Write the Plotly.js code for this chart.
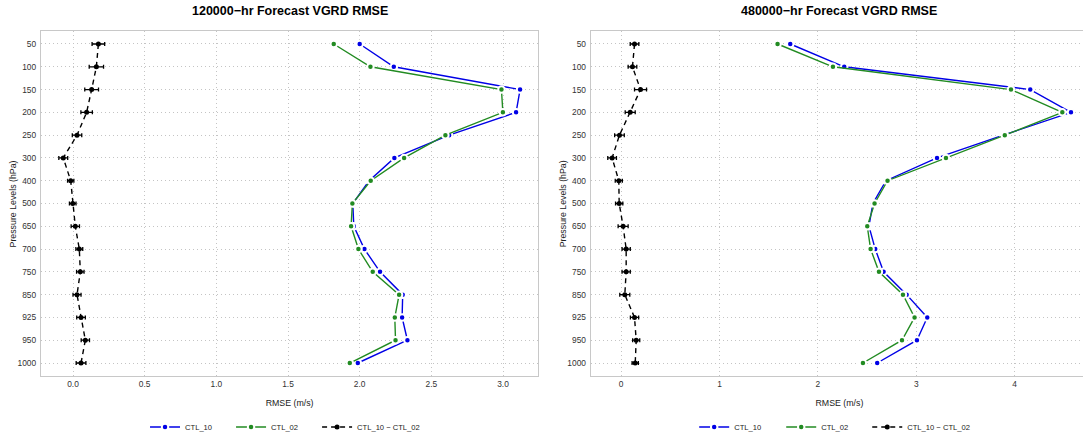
<!DOCTYPE html>
<html>
<head>
<meta charset="utf-8">
<script src="https://cdn.plot.ly/plotly-3.0.1.min.js"></script>
<style>
  html, body { margin: 0; padding: 0; overflow: hidden; background: #fff; }
  #chart { width: 1092px; height: 460px; }
</style>
</head>
<body>
<div id="chart"></div>
<script>
// Pressure levels (hPa), top of the atmosphere first
const levels = ['50', '100', '150', '200', '250', '300', '400', '500', '650', '700', '750', '850', '925', '950', '1000'];

// 120000-hr forecast VGRD RMSE (m/s)
const ctl10_f120 = [2.000, 2.238, 3.119, 3.091, 2.624, 2.242, 2.066, 1.952, 1.959, 2.033, 2.142, 2.300, 2.296, 2.333, 1.987];
const ctl02_f120 = [1.819, 2.075, 2.989, 2.999, 2.598, 2.310, 2.077, 1.949, 1.940, 1.991, 2.091, 2.275, 2.245, 2.250, 1.931];
const diff_f120  = [0.177, 0.163, 0.130, 0.095, 0.028, -0.068, -0.016, -0.002, 0.016, 0.044, 0.051, 0.028, 0.056, 0.086, 0.056];
const ci_f120    = [0.044, 0.050, 0.048, 0.040, 0.033, 0.031, 0.022, 0.023, 0.029, 0.024, 0.026, 0.028, 0.030, 0.029, 0.034];

// 480000-hr forecast VGRD RMSE (m/s)
const ctl10_f480 = [1.719, 2.268, 4.159, 4.573, 3.885, 3.211, 2.692, 2.559, 2.519, 2.583, 2.668, 2.902, 3.112, 3.007, 2.603];
const ctl02_f480 = [1.590, 2.153, 3.963, 4.485, 3.900, 3.302, 2.708, 2.576, 2.502, 2.536, 2.621, 2.865, 2.983, 2.855, 2.458];
const diff_f480  = [0.136, 0.115, 0.197, 0.092, -0.017, -0.092, -0.024, -0.020, 0.020, 0.051, 0.051, 0.037, 0.136, 0.153, 0.143];
const ci_f480    = [0.044, 0.044, 0.061, 0.051, 0.049, 0.044, 0.036, 0.037, 0.051, 0.042, 0.042, 0.051, 0.042, 0.036, 0.032];

const seriesNames = ['CTL_10', 'CTL_02', 'CTL_10 \u2212 CTL_02'];
const xTicks120 = [0, 0.5, 1, 1.5, 2, 2.5, 3];
const xTicks480 = [0, 1, 2, 3, 4];

// Figure is a little larger than the window; the page crops the overflow.
const W = 1092, H = 460;
const M = { l: 41, r: 4.3, t: 31, b: 84 };
const PW = W - M.l - M.r, PH = H - M.t - M.b;
const FONT = 'Liberation Sans, Arial, Helvetica, sans-serif';
const BLUE = '#0000e6', GREEN = '#228b22', BLACK = '#000000';

// page pixel -> paper fraction of the plotting area
function px(v) { return (v - M.l) / PW; }
function py(v) { return (M.t + PH - v) / PH; }

function panelTraces(c10, c02, diff, ci, xa, ya, legs) {
  const common = { y: levels, xaxis: xa, yaxis: ya, mode: 'lines+markers', cliponaxis: false };
  return [
    Object.assign({}, common, {
      x: c10, name: seriesNames[0], legend: legs[0],
      line: { color: BLUE, width: 1.4 },
      marker: { color: BLUE, size: 6.5, line: { color: '#ffffff', width: 2 } }
    }),
    Object.assign({}, common, {
      x: c02, name: seriesNames[1], legend: legs[1],
      line: { color: GREEN, width: 1.4 },
      marker: { color: GREEN, size: 6.5, line: { color: '#ffffff', width: 2 } }
    }),
    Object.assign({}, common, {
      x: diff, name: seriesNames[2], legend: legs[2],
      line: { color: BLACK, width: 1.4, dash: '5px,4px' },
      marker: { color: BLACK, size: 5 },
      error_x: { type: 'data', array: ci, symmetric: true, color: BLACK, thickness: 1.3, width: 2 }
    })
  ];
}

const data = [].concat(
  panelTraces(ctl10_f120, ctl02_f120, diff_f120, ci_f120, 'x', 'y', ['legend', 'legend2', 'legend3']),
  panelTraces(ctl10_f480, ctl02_f480, diff_f480, ci_f480, 'x2', 'y2', ['legend4', 'legend5', 'legend6'])
);

const frame = { showline: true, mirror: true, linecolor: '#c8c8c8', linewidth: 1.2 };
const grid = { showgrid: true, gridcolor: '#c4c4c4', gridwidth: 1, griddash: '1px,3px', zeroline: false };
const tickFont = { family: FONT, size: 8.4, color: '#333333' };
const axisTitleFont = { family: FONT, size: 8.8, color: '#222222' };

function xAxis(domain, range, ticks, fmt, anchor) {
  return Object.assign({}, frame, grid, {
    domain: domain, range: range, anchor: anchor, automargin: false,
    tickmode: 'array', tickvals: ticks, tickformat: fmt,
    ticks: '', tickfont: tickFont,
    title: { text: 'RMSE (m/s)', font: axisTitleFont, standoff: 11 }
  });
}
function yAxis(anchor) {
  return Object.assign({}, frame, grid, {
    domain: [0, 1], anchor: anchor, type: 'category', automargin: false,
    categoryorder: 'array', categoryarray: levels,
    range: [levels.length - 1 + 0.57, -0.57],
    ticks: '', tickfont: tickFont, ticklabelstandoff: 2
  });
}

const leftDom = [px(41), px(538)];
const rightDom = [px(590.7), px(1087.7)];

function legendAt(textX) {
  return {
    orientation: 'h', yanchor: 'middle', xanchor: 'left',
    x: px(textX - 40), y: py(427),
    font: { family: FONT, size: 7.6, color: '#222222' },
    bgcolor: 'rgba(0,0,0,0)', borderwidth: 0, itemwidth: 30, tracegroupgap: 0
  };
}

function panelTitle(text, dom) {
  return { text: '<b>' + text + '</b>', xref: 'paper', yref: 'paper',
    x: (dom[0] + dom[1]) / 2, y: py(11), xanchor: 'center', yanchor: 'middle',
    showarrow: false, font: { family: FONT, size: 12.5, color: '#000000' } };
}
function yTitle(xPage) {
  return { text: 'Pressure Levels (hPa)', xref: 'paper', yref: 'paper', textangle: -90,
    x: px(xPage), y: 0.5, xanchor: 'center', yanchor: 'middle',
    showarrow: false, font: axisTitleFont };
}

const layout = {
  width: W, height: H,
  margin: M,
  paper_bgcolor: '#ffffff', plot_bgcolor: '#ffffff',
  font: { family: FONT },
  showlegend: true,
  xaxis: xAxis(leftDom, [-0.2233, 3.245], xTicks120, '.1f', 'y'),
  yaxis: yAxis('x'),
  xaxis2: xAxis(rightDom, [-0.308, 4.746], xTicks480, 'd', 'y2'),
  yaxis2: yAxis('x2'),
  legend: legendAt(185),
  legend2: legendAt(271),
  legend3: legendAt(357),
  legend4: legendAt(734),
  legend5: legendAt(821),
  legend6: legendAt(907),
  annotations: [
    panelTitle('120000\u2212hr Forecast VGRD RMSE', leftDom),
    panelTitle('480000\u2212hr Forecast VGRD RMSE', rightDom),
    yTitle(13),
    yTitle(562.7)
  ]
};

Plotly.newPlot('chart', data, layout, { displayModeBar: false, staticPlot: true });
</script>
</body>
</html>
